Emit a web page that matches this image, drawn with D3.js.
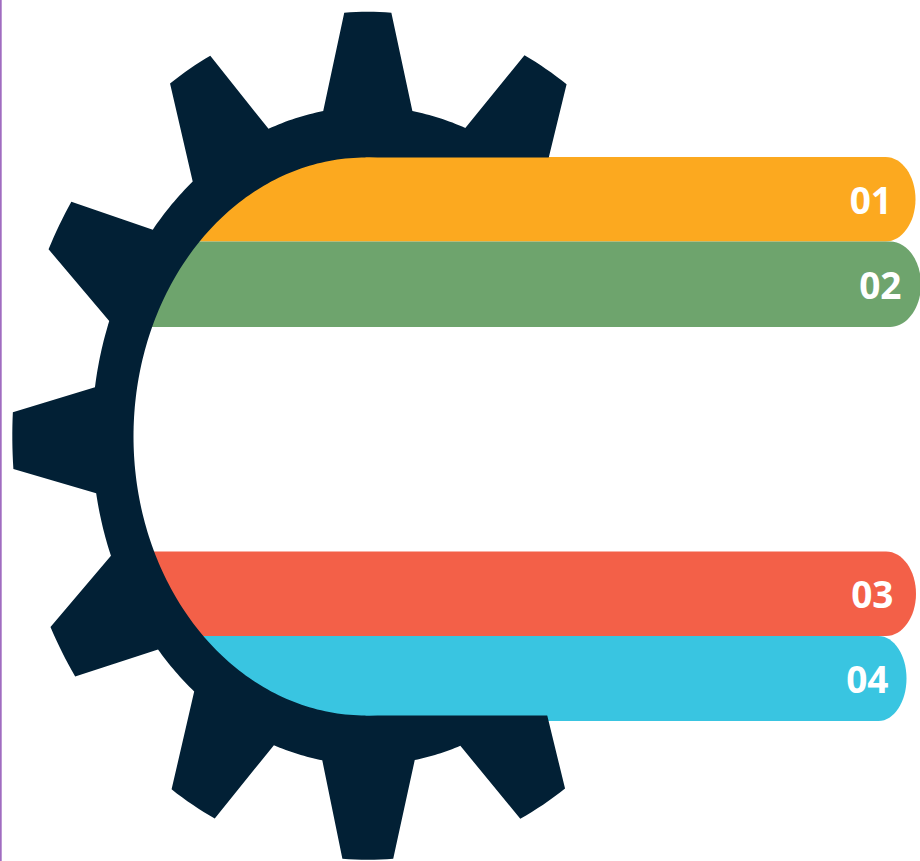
<!DOCTYPE html>
<html>
<head>
<meta charset="utf-8">
<style>
html,body{margin:0;padding:0;background:#fff;overflow:hidden}
svg{display:block}
</style>
<script src="https://cdn.jsdelivr.net/npm/d3@7"></script>
</head>
<body>
<div id="chart"></div>
<script>
const labels = ["01","02","03","04"];
const bandColors = ["#FCA91F","#6EA46D","#F36048","#39C5E1"];
const bandTops = [157,241.5,551.5,636];
const bandBottoms = [241.5,327,636,721];
const bandRights = [915.5,921,916,906.5];
const bandCornerX = [30,31,30,28];
const labelRights = [892,901.5,893.5,888.5];
const labelBaselines = [214,299,608,693];
// tooth outline, degrees clockwise from the top of the gear
const toothBaseStart = [-9.3,20.7,50.7,80.7,110.7,141,170.2,199.9,229.5,259.95,290.4,320.6];
const toothTipStart  = [-3.8,26.15,56.2,86.2,116.2,146.3,175.9,205.5,235.4,265.5,296.1,326.2];
const toothTipEnd    = [3.8,34,63.8,93.8,123.8,154.6,184.1,213.5,243.2,273.2,303.5,333.7];
const toothBaseEnd   = [9.3,39.4,69.3,99.3,129.3,160.4,189.5,219,248.6,278.5,308.8,338.9];

const W = 920, H = 861;
const gearColor = "#022035";
const svg = d3.select("#chart").append("svg").attr("width",W).attr("height",H);

// gear is a circle in unit space stretched onto the page
const gx = d3.scaleLinear().domain([-1,1]).range([367.8-355.5,367.8+355.5]);
const gy = d3.scaleLinear().domain([-1,1]).range([435.8-424,435.8+424]);
const holeX = d3.scaleLinear().domain([-1,1]).range([365.5-232,365.5+232]);
const holeY = d3.scaleLinear().domain([-1,1]).range([436.5-279,436.5+279]);
const rootR = 0.776;
const rad = d => d * Math.PI / 180;
const steps = (a,b,n) => d3.range(n+1).map(i => a + (b-a)*i/n);

const pts = [];
toothBaseStart.forEach((_,i) => {
  const nextBase = i < toothBaseStart.length-1 ? toothBaseStart[i+1] : toothBaseStart[0]+360;
  steps(toothTipStart[i],toothTipEnd[i],8).forEach(t => pts.push([1,t]));
  steps(toothBaseEnd[i],nextBase,16).forEach(t => pts.push([rootR,t]));
});
const gearLine = d3.line().x(d => gx(d[0]*Math.sin(rad(d[1])))).y(d => gy(-d[0]*Math.cos(rad(d[1]))));
const holeLine = d3.line().x(d => holeX(Math.sin(rad(d)))).y(d => holeY(-Math.cos(rad(d))));
const gearPath = gearLine(pts) + "Z" + holeLine(d3.range(0,360,1)) + "Z";

// cut-out of the gear where the bands run to the right
const defs = svg.append("defs");
defs.append("clipPath").attr("id","gearCut").append("path")
  .attr("clip-rule","evenodd")
  .attr("d",`M0,0H${W}V${H}H0Z M${holeX(0)},${holeY(-1)}H${W}V${holeY(1)}H${holeX(0)}Z`);

svg.append("rect").attr("x",0).attr("y",0).attr("width",1.7).attr("height",H).attr("fill","#A06CC0");

const holeLeftAt = y => {
  const k = (y - holeY(0)) / (holeY(1) - holeY(0));
  return holeX(0) - (holeX(0) - holeX(-1)) * Math.sqrt(Math.max(0, 1 - k*k));
};

function bandPath(i){
  const t = bandTops[i], b = bandBottoms[i], r = bandRights[i], cx = bandCornerX[i];
  const ry = (b - t) / 2, k = 0.5523;
  const far = Math.abs(t-436.5) > Math.abs(b-436.5) ? b : t;
  const left = holeLeftAt(far) - 1.5;
  const p = d3.path();
  p.moveTo(left,t);
  p.lineTo(r-cx,t);
  p.bezierCurveTo(r-cx+k*cx,t,r,t+ry-k*ry,r,t+ry);
  p.bezierCurveTo(r,t+ry+k*ry,r-cx+k*cx,b,r-cx,b);
  p.lineTo(left,b);
  p.closePath();
  return p.toString();
}

svg.append("g").selectAll("path").data(labels).join("path")
  .attr("d",(d,i)=>bandPath(i))
  .attr("fill",(d,i)=>bandColors[i]);

svg.append("path")
  .attr("d",gearPath)
  .attr("fill",gearColor)
  .attr("fill-rule","evenodd")
  .attr("clip-path","url(#gearCut)");

svg.append("g").selectAll("text").data(labels).join("text")
  .attr("x",(d,i)=>labelRights[i])
  .attr("y",(d,i)=>labelBaselines[i])
  .attr("text-anchor","end")
  .attr("fill","#fff")
  .attr("font-family","'Open Sans',sans-serif")
  .attr("font-weight",700)
  .attr("font-size",37)
  .text(d=>d);
</script>
</body>
</html>
